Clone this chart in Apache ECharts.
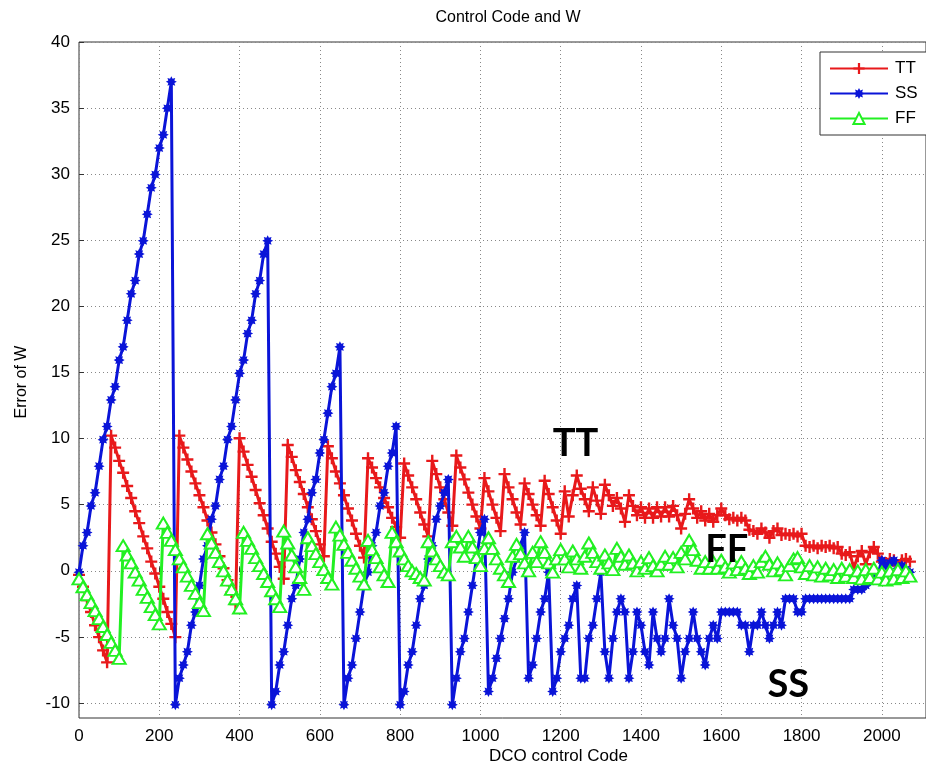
<!DOCTYPE html>
<html>
<head>
<meta charset="utf-8">
<title>Control Code and W</title>
<script src="https://cdn.jsdelivr.net/npm/echarts@6/dist/echarts.min.js"></script>
<style>
  html, body { margin: 0; padding: 0; background: #fff; }
  #chart { width: 926px; height: 772px; }
</style>
</head>
<body>
<div id="chart"></div>
<script>
// DCO control codes at which each error sample was taken
const codes = [
  0, 10, 20, 30, 40, 50, 60, 70, 80, 90,
  100, 110, 120, 130, 140, 150, 160, 170, 180, 190,
  200, 210, 220, 230, 240, 250, 260, 270, 280, 290,
  300, 310, 320, 330, 340, 350, 360, 370, 380, 390,
  400, 410, 420, 430, 440, 450, 460, 470, 480, 490,
  500, 510, 520, 530, 540, 550, 560, 570, 580, 590,
  600, 610, 620, 630, 640, 650, 660, 670, 680, 690,
  700, 710, 720, 730, 740, 750, 760, 770, 780, 790,
  800, 810, 820, 830, 840, 850, 860, 870, 880, 890,
  900, 910, 920, 930, 940, 950, 960, 970, 980, 990,
  1000, 1010, 1020, 1030, 1040, 1050, 1060, 1070, 1080, 1090,
  1100, 1110, 1120, 1130, 1140, 1150, 1160, 1170, 1180, 1190,
  1200, 1210, 1220, 1230, 1240, 1250, 1260, 1270, 1280, 1290,
  1300, 1310, 1320, 1330, 1340, 1350, 1360, 1370, 1380, 1390,
  1400, 1410, 1420, 1430, 1440, 1450, 1460, 1470, 1480, 1490,
  1500, 1510, 1520, 1530, 1540, 1550, 1560, 1570, 1580, 1590,
  1600, 1610, 1620, 1630, 1640, 1650, 1660, 1670, 1680, 1690,
  1700, 1710, 1720, 1730, 1740, 1750, 1760, 1770, 1780, 1790,
  1800, 1810, 1820, 1830, 1840, 1850, 1860, 1870, 1880, 1890,
  1900, 1910, 1920, 1930, 1940, 1950, 1960, 1970, 1980, 1990,
  2000, 2010, 2020, 2030, 2040, 2050, 2060, 2070
];

// Error of W for the TT corner
const ttErr = [
  -0.2, -1.1, -2.1, -3.0, -4.0, -4.9, -5.9, -6.8, 10.3, 9.4,
  8.4, 7.5, 6.5, 5.6, 4.6, 3.7, 2.7, 1.8, 0.8, -0.1,
  -1.1, -2.0, -3.0, -3.9, -4.9, 10.3, 9.4, 8.5, 7.6, 6.7,
  5.8, 4.9, 3.9, 3.0, 2.1, 1.2, 0.3, -0.6, -1.5, -2.4,
  10.1, 9.1, 8.1, 7.2, 6.2, 5.2, 4.3, 3.3, 2.3, 1.4,
  0.4, -0.5, 9.6, 8.7, 7.7, 6.8, 5.9, 4.9, 4.0, 3.1,
  2.1, 1.2, 9.5, 8.6, 7.6, 6.7, 5.8, 4.8, 3.9, 2.9,
  2.0, 1.1, 8.6, 7.9, 7.1, 6.4, 5.6, 4.9, 4.1, 3.4,
  2.6, 8.2, 7.3, 6.4, 5.5, 4.5, 3.6, 2.7, 8.4, 7.4,
  6.4, 5.5, 4.5, 3.5, 8.8, 7.9, 7.0, 6.0, 5.1, 4.2,
  3.3, 7.1, 6.1, 5.1, 4.1, 3.1, 7.4, 6.4, 5.5, 4.5,
  3.6, 6.7, 5.9, 5.1, 4.3, 3.5, 6.9, 5.9, 4.9, 3.9,
  2.9, 6.1, 4.2, 5.8, 7.3, 6.3, 5.5, 4.6, 6.4, 5.4,
  4.4, 6.6, 5.8, 5.0, 5.6, 4.8, 3.8, 5.8, 5.0, 4.3,
  4.9, 4.1, 4.8, 4.1, 4.9, 4.2, 4.9, 4.2, 5.0, 4.3,
  3.3, 4.4, 5.5, 4.8, 4.1, 4.6, 3.9, 4.4, 3.8, 4.3,
  4.8, 4.3, 4.0, 4.1, 3.9, 4.1, 3.9, 3.2, 3.1, 2.9,
  3.3, 3.0, 2.6, 3.1, 3.3, 2.8, 2.9, 2.8, 2.9, 2.7,
  2.9, 2.0, 1.9, 2.0, 1.8, 2.0, 1.9, 2.0, 1.8, 1.9,
  1.4, 1.3, 1.5, 0.3, 1.2, 1.6, 0.6, 1.5, 1.9, 1.4,
  0.8, 0.7, 1.0, 0.9, 0.5, 0.9, 1.0, 0.8
];

// Error of W for the SS corner
const ssErr = [
  0, 2, 3, 5, 6, 8, 10, 11, 13, 14,
  16, 17, 19, 21, 22, 24, 25, 27, 29, 30,
  32, 33, 35, 37, -10, -8, -7, -6, -4, -3,
  -1, 1, 2, 4, 5, 7, 8, 10, 11, 13,
  15, 16, 18, 19, 21, 22, 24, 25, -10, -9,
  -7, -6, -4, -2, -1, 1, 3, 4, 6, 7,
  9, 10, 12, 14, 15, 17, -10, -8, -7, -5,
  -3, -1, 0, 2, 3, 5, 6, 8, 9, 11,
  -10, -9, -7, -6, -4, -2, -1, 1, 2, 4,
  5, 6, 7, -10, -8, -6, -5, -3, -1, 1,
  3, 4, -9, -8, -6.5, -5, -3.5, -2, 0, 1,
  2, 3, -8, -7, -5, -3, -2, 0, -9, -8,
  -6, -5, -4, -2, -1, -8, -8, -5, -4, -2,
  0, -6, -8, -5, -3, -2, -3, -8, -6, -3,
  -4, -6, -7, -3, -5, -6, -5, -2, -4, -5,
  -8, -6, -5, -3, -5, -6, -7, -5, -4, -5,
  -3, -3, -3, -3, -3, -4, -4, -6, -4, -4,
  -3, -4, -5, -4, -3, -4, -2, -2, -2, -3,
  -3, -2, -2, -2, -2, -2, -2, -2, -2, -2,
  -2, -2, -2, -1.3, -1.3, -1.3, -1, -0.7, -0.5, -0.2,
  0.9, 0.5, 0.7, 0.9, 0.3, 0.5, 0.2, 0.0
];

// Error of W for the FF corner
const ffErr = [
  -0.5, -1.1, -1.7, -2.3, -2.9, -3.5, -4.1, -4.7, -5.3, -5.9,
  -6.5, 2.0, 1.3, 0.7, 0.0, -0.6, -1.3, -1.9, -2.6, -3.2,
  -3.9, 3.7, 3.0, 2.4, 1.7, 1.0, 0.4, -0.3, -1.0, -1.6,
  -2.3, -2.9, 2.9, 2.2, 1.5, 0.8, 0.1, -0.6, -1.3, -2.0,
  -2.7, 3.0, 2.4, 1.8, 1.1, 0.5, -0.1, -0.7, -1.4, -2.0,
  -2.6, 3.1, 2.2, 1.3, 0.4, -0.4, -1.3, 2.6, 2.0, 1.4,
  0.8, 0.2, -0.4, -0.9, 3.4, 2.8, 2.1, 1.5, 0.9, 0.3,
  -0.3, -0.9, 2.4, 1.7, 1.1, 0.4, -0.2, -0.7, 3.0, 2.3,
  1.6, 1.0, 0.5, 0.1, -0.1, -0.4, -0.6, 2.3, 1.6, 1.0,
  0.5, 0.0, -0.2, 2.3, 2.7, 1.9, 1.2, 2.7, 1.9, 1.1,
  0.5, 1.8, 2.6, 1.8, 1.0, 0.3, -0.2, -0.7, 1.2, 2.1,
  1.4, 0.7, 0.1, 1.5, 0.8, 2.3, 1.5, 0.7, 0.0, 1.0,
  1.7, 1.0, 0.4, 1.6, 1.0, 0.3, 1.2, 2.2, 1.5, 0.8,
  0.3, 1.3, 0.7, 0.2, 1.8, 1.2, 0.6, 1.3, 0.7, 0.1,
  0.8, 0.3, 1.1, 0.5, 0.1, 0.6, 1.2, 0.6, 1.1, 0.4,
  1.5, 1.0, 2.4, 1.7, 0.9, 0.3, 0.8, 0.3, 0.8, 0.3,
  0.9, 0.4, 0.0, 0.7, 0.2, 0.8, 0.3, -0.1, 0.5, 0.0,
  0.8, 1.2, 0.6, 0.1, 0.7, 0.2, -0.2, 0.5, 1.0, 1.1,
  0.4, -0.1, 0.5, -0.2, 0.4, -0.3, 0.3, -0.2, 0.2, -0.4,
  0.3, -0.3, 0.2, -0.4, 0.1, -0.5, 0.2, -0.4, 0.3, -0.5,
  0.0, -0.6, 0.1, -0.5, 0.2, -0.4, 0.1, -0.3
];

const seriesNames = ['TT', 'SS', 'FF'];
const seriesColors = ['#e8191b', '#0a14d8', '#22f022'];
const inlineLabels = [
  { text: 'TT', code: 1180, err: 9.7 },
  { text: 'FF', code: 1560, err: 1.7 },
  { text: 'SS', code: 1715, err: -8.5 }
];

const FONT = '"Liberation Sans", Arial, Helvetica, sans-serif';
const plusSymbol = 'path://M4,0H6V4H10V6H6V10H4V6H0V4H4Z';
const starSymbol = 'path://M20,10L15.54,12.3L17.07,17.07L12.3,15.54L10,20L7.7,15.54L2.93,17.07L4.46,12.3L0,10L4.46,7.7L2.93,2.93L7.7,4.46L10,0L12.3,4.46L17.07,2.93L15.54,7.7Z';

function pairs(values) {
  return codes.map((c, i) => [c, values[i]]);
}

const chart = echarts.init(document.getElementById('chart'), null, { renderer: 'canvas' });

const xMax = 2110;
const plotLeft = 79, plotTop = 42, plotWidth = 849, plotHeight = 676;

const option = {
  animation: false,
  backgroundColor: '#fff',
  title: {
    text: 'Control Code and W',
    left: 503,
    top: 5,
    textAlign: 'center',
    textStyle: { fontFamily: FONT, fontSize: 16, fontWeight: 'normal', color: '#000' }
  },
  legend: {
    data: seriesNames,
    orient: 'vertical',
    left: 820,
    top: 52,
    itemWidth: 58,
    itemHeight: 14,
    itemGap: 8,
    padding: [8, 60, 8, 9],
    backgroundColor: '#fff',
    borderColor: '#333',
    borderWidth: 1,
    borderRadius: 0,
    textStyle: { fontFamily: FONT, fontSize: 17, color: '#000', padding: [0, 0, 0, 2] }
  },
  grid: [
    { left: plotLeft, top: plotTop, width: plotWidth, height: plotHeight,
      show: true, borderColor: '#333', borderWidth: 1, backgroundColor: '#fff' },
    { left: plotLeft, top: plotTop, width: plotWidth, height: 661 }
  ],
  xAxis: [
    {
      gridIndex: 0, type: 'value', min: 0, max: xMax, interval: 200,
      axisLine: { show: false },
      axisTick: { show: true, inside: true, length: 5, lineStyle: { color: '#333' } },
      axisLabel: { showMaxLabel: false, margin: 10, fontFamily: FONT, fontSize: 17, color: '#000',
                   formatter: v => String(v) },
      splitLine: { show: true, lineStyle: { type: [1, 3], color: '#888', width: 1 } }
    },
    { gridIndex: 1, type: 'value', min: 0, max: xMax, show: false }
  ],
  yAxis: [
    { gridIndex: 0, type: 'value', min: -11, max: 40, show: false, splitLine: { show: false } },
    {
      gridIndex: 1, type: 'value', min: -10, max: 40, interval: 5,
      axisLine: { show: false },
      axisTick: { show: true, inside: true, length: 5, lineStyle: { color: '#333' } },
      axisLabel: { margin: 9, fontFamily: FONT, fontSize: 17, color: '#000' },
      splitLine: { show: true, lineStyle: { type: [1, 3], color: '#888', width: 1 } }
    }
  ],
  graphic: [
    {
      type: 'text', left: 489, top: 748,
      style: { text: 'DCO control Code', fontFamily: FONT, fontSize: 17, fill: '#000', textAlign: 'center' }
    },
    {
      type: 'text', x: 22, y: 382, rotation: Math.PI / 2,
      style: { text: 'Error of W', fontFamily: FONT, fontSize: 16, fill: '#000', textAlign: 'center', textVerticalAlign: 'middle' }
    }
  ],
  series: [
    {
      name: seriesNames[0], type: 'line', xAxisIndex: 0, yAxisIndex: 0,
      data: pairs(ttErr),
      symbol: plusSymbol, symbolSize: 12, showAllSymbol: true,
      lineStyle: { color: seriesColors[0], width: 3 },
      itemStyle: { color: seriesColors[0] },
      z: 2
    },
    {
      name: seriesNames[1], type: 'line', xAxisIndex: 0, yAxisIndex: 0,
      data: pairs(ssErr),
      symbol: starSymbol, symbolSize: 11, showAllSymbol: true,
      lineStyle: { color: seriesColors[1], width: 3 },
      itemStyle: { color: seriesColors[1] },
      z: 3
    },
    {
      name: seriesNames[2], type: 'line', xAxisIndex: 0, yAxisIndex: 0,
      data: pairs(ffErr),
      symbol: 'emptyTriangle', symbolSize: [13, 11], showAllSymbol: true,
      lineStyle: { color: seriesColors[2], width: 3 },
      itemStyle: { color: seriesColors[2], borderColor: seriesColors[2], borderWidth: 2 },
      z: 4
    }
  ]
};

chart.setOption(option);

// Bold series names written inside the plot next to each curve
const annotations = inlineLabels.map(l => {
  const p = chart.convertToPixel({ xAxisIndex: 0, yAxisIndex: 0 }, [l.code, l.err]);
  return {
    type: 'text', x: p[0], y: p[1], z: 10,
    style: { text: l.text, fontFamily: 'Lato, "Open Sans", sans-serif', fontWeight: 'bold', fontSize: 38,
             fill: '#000', textAlign: 'left', textVerticalAlign: 'middle' }
  };
});
chart.setOption({ graphic: option.graphic.concat(annotations) });
</script>
</body>
</html>
